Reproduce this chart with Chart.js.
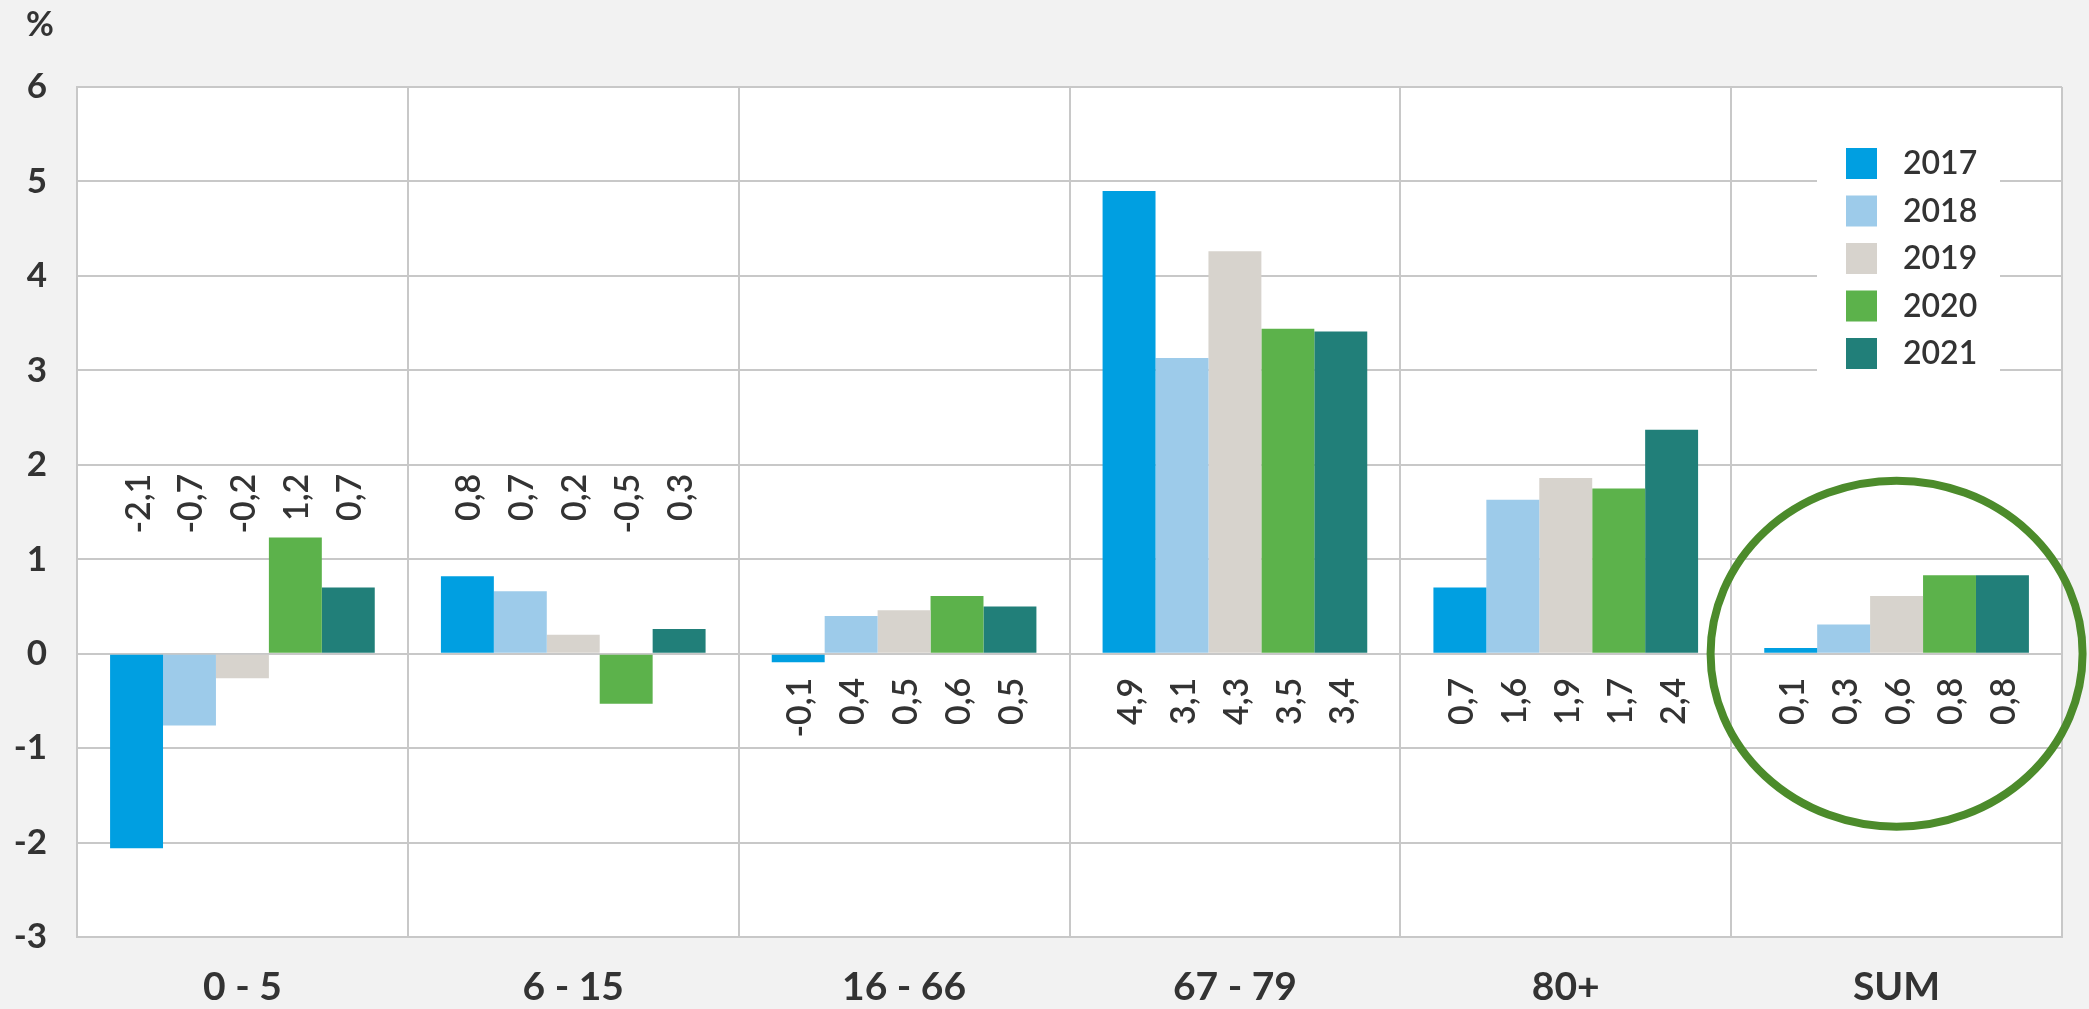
<!DOCTYPE html>
<html>
<head>
<meta charset="utf-8">
<script src="https://cdn.jsdelivr.net/npm/chart.js@4"></script>
<style>
  body { margin: 0; background: #f2f2f2; }
  canvas { display: block; }
</style>
</head>
<body>
<canvas id="chart" width="2089" height="1009"></canvas>
<script>
const groups = ["0 - 5", "6 - 15", "16 - 66", "67 - 79", "80+", "SUM"];
const years = ["2017", "2018", "2019", "2020", "2021"];

// bar heights as drawn
const v2017 = [-2.06, 0.82, -0.09, 4.9, 0.7, 0.06];
const v2018 = [-0.76, 0.66, 0.4, 3.13, 1.63, 0.31];
const v2019 = [-0.26, 0.2, 0.46, 4.26, 1.86, 0.61];
const v2020 = [1.23, -0.53, 0.61, 3.44, 1.75, 0.83];
const v2021 = [0.7, 0.26, 0.5, 3.41, 2.37, 0.83];

// values printed on the chart
const p2017 = [-2.1, 0.8, -0.1, 4.9, 0.7, 0.1];
const p2018 = [-0.7, 0.7, 0.4, 3.1, 1.6, 0.3];
const p2019 = [-0.2, 0.2, 0.5, 4.3, 1.9, 0.6];
const p2020 = [1.2, -0.5, 0.6, 3.5, 1.7, 0.8];
const p2021 = [0.7, 0.3, 0.5, 3.4, 2.4, 0.8];

const colors = ["#009fe1", "#9dcbea", "#d7d3cd", "#5cb24b", "#217f79"];
const values = [v2017, v2018, v2019, v2020, v2021];
const printed = [p2017, p2018, p2019, p2020, p2021];

const txt = "#333333";
const gridCol = "#c8c8c8";

const extras = {
  id: "extras",
  beforeDraw(chart) {
    const { ctx, chartArea: a } = chart;
    ctx.save();
    ctx.fillStyle = "#ffffff";
    ctx.fillRect(a.left, a.top, a.right - a.left, a.bottom - a.top);
    ctx.restore();
  },
  afterDatasetsDraw(chart) {
    const { ctx, scales } = chart;
    const zero = scales.y.getPixelForValue(0);
    ctx.save();
    ctx.fillStyle = txt;
    ctx.font = "600 34px Lato";
    ctx.textAlign = "right";
    ctx.textBaseline = "middle";
    chart.data.datasets.forEach((ds, di) => {
      chart.getDatasetMeta(di).data.forEach((bar, i) => {
        const top = i < 2 ? zero - 180 : zero + 24;
        const s = printed[di][i].toFixed(1).replace(".", ",");
        ctx.save();
        ctx.translate(bar.x + 2, top);
        ctx.rotate(-Math.PI / 2);
        ctx.fillText(s, 0, 0);
        ctx.restore();
      });
    });
    ctx.restore();
  },
  afterDraw(chart) {
    const { ctx, chartArea: a, scales } = chart;
    ctx.save();
    // % unit
    ctx.fillStyle = txt;
    ctx.font = "bold 34px Lato";
    ctx.textAlign = "left";
    ctx.textBaseline = "middle";
    ctx.fillText("%", 26, 25);

    // legend inside plot
    ctx.fillStyle = "#ffffff";
    ctx.fillRect(a.right - 245, a.top + 52, 183, 242);
    ctx.font = "600 32px Lato";
    chart.data.datasets.forEach((ds, i) => {
      const y = a.top + 61 + i * 47.5;
      ctx.fillStyle = ds.backgroundColor;
      ctx.fillRect(a.right - 216, y, 31, 31);
      ctx.fillStyle = txt;
      ctx.fillText(ds.label, a.right - 159, y + 16);
    });

    // highlight ring around SUM
    const cx = scales.x.getPixelForValue(5);
    const cy = scales.y.getPixelForValue(0);
    ctx.strokeStyle = "#4c8b2b";
    ctx.lineWidth = 8;
    ctx.beginPath();
    ctx.ellipse(cx, cy, 186, 173, 0, 0, Math.PI * 2);
    ctx.stroke();
    ctx.restore();
  }
};

new Chart(document.getElementById("chart"), {
  type: "bar",
  data: {
    labels: groups,
    datasets: years.map((y, i) => ({
      label: y,
      data: values[i],
      backgroundColor: colors[i],
      categoryPercentage: 0.8,
      barPercentage: 1.0
    }))
  },
  options: {
    responsive: false,
    animation: false,
    layout: { padding: { top: 87, right: 27, left: 0, bottom: 0 } },
    plugins: {
      legend: { display: false },
      tooltip: { enabled: false }
    },
    scales: {
      x: {
        afterFit(s) { s.height = 72; },
        grid: { color: gridCol, lineWidth: 2, drawTicks: false, offset: true },
        border: { color: gridCol, width: 2 },
        ticks: { color: txt, font: { family: "Lato", size: 39, weight: "bold" }, padding: 27 }
      },
      y: {
        min: -3,
        max: 6,
        afterFit(s) { s.width = 77; },
        grid: { color: gridCol, lineWidth: 2, drawTicks: false },
        border: { color: gridCol, width: 2 },
        ticks: {
          stepSize: 1,
          color: txt,
          padding: 30,
          font: { family: "Lato", size: 35, weight: "bold" },
          callback: v => String(v)
        }
      }
    }
  },
  plugins: [extras]
});
</script>
</body>
</html>
